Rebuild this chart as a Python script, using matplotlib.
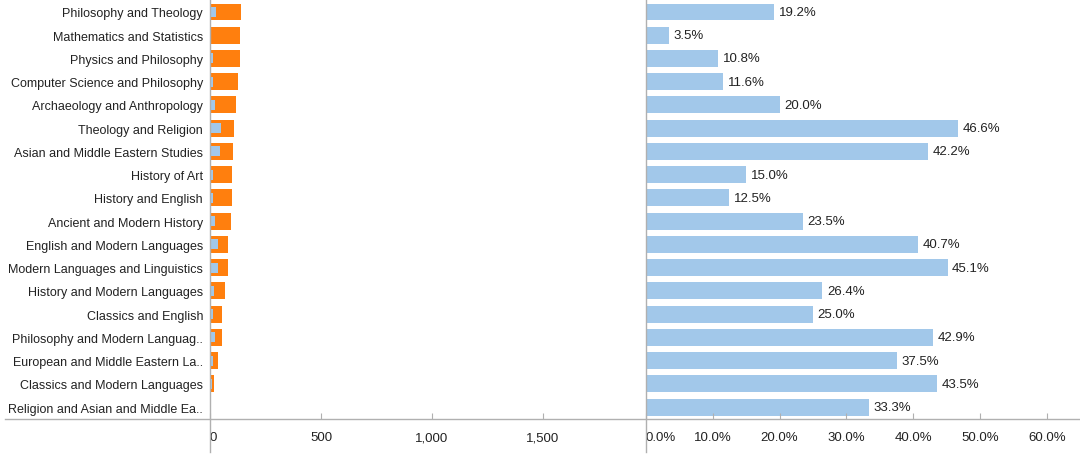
import numpy as np
import matplotlib
matplotlib.use('Agg')
import matplotlib.pyplot as plt
from matplotlib.lines import Line2D

plt.rcParams['font.family'] = ['Liberation Sans', 'DejaVu Sans']

courses = ['Philosophy and Theology', 'Mathematics and Statistics', 'Physics and Philosophy',
           'Computer Science and Philosophy', 'Archaeology and Anthropology', 'Theology and Religion',
           'Asian and Middle Eastern Studies', 'History of Art', 'History and English',
           'Ancient and Modern History', 'English and Modern Languages', 'Modern Languages and Linguistics',
           'History and Modern Languages', 'Classics and English', 'Philosophy and Modern Languag..',
           'European and Middle Eastern La..', 'Classics and Modern Languages', 'Religion and Asian and Middle Ea..']
applications = [141, 135, 135, 125, 119, 109, 104, 98, 98, 94, 83, 83, 67, 52, 52, 37, 17, 3]
offers = [27, 5, 15, 15, 24, 51, 44, 15, 12, 22, 34, 37, 18, 13, 22, 14, 7, 1]
success_rate = [19.2, 3.5, 10.8, 11.6, 20.0, 46.6, 42.2, 15.0, 12.5, 23.5, 40.7, 45.1,
                26.4, 25.0, 42.9, 37.5, 43.5, 33.3]

W, H = 1080, 464
fig = plt.figure(figsize=(W / 100, H / 100), dpi=100)

x0, x1, x2 = 210, 645.7, 1080
ybot, ytop = 420, 0
ax1 = fig.add_axes([x0 / W, (H - ybot) / H, (x1 - x0) / W, (ybot - ytop) / H])
ax2 = fig.add_axes([x1 / W, (H - ybot) / H, (x2 - x1) / W, (ybot - ytop) / H])

ind = np.arange(len(courses))
orange = '#ff7f0e'
blue = '#a2c8ea'
txt = '#222222'
grey = '#b0b0b0'

ax1.barh(ind, applications, height=0.73, color=orange)
ax1.barh(ind, offers, height=0.43, color=blue)
ax2.barh(ind, success_rate, height=0.73, color=blue)
for i, v in enumerate(success_rate):
    ax2.text(v + 0.7, i, '%.1f%%' % v, va='center', ha='left', fontsize=9.5, color=txt)

step = 23.24
ylim = ((ybot - 13) / step, -13 / step)
for ax in (ax1, ax2):
    ax.set_ylim(*ylim)
    for s in ax.spines.values():
        s.set_visible(False)
    ax.tick_params(axis='x', direction='in', length=4, color=grey, pad=9,
                   labelsize=9.5, labelcolor=txt)
    ax.tick_params(axis='y', length=0)

ax1.set_xlim(0, 1963)
ax1.set_yticks(ind)
ax1.set_yticklabels(courses, fontsize=9, color=txt)
ax1.tick_params(axis='y', pad=5)
ax1.set_xticks([0, 500, 1000, 1500])
ax1.set_xticklabels(['0', '500', '1,000', '1,500'])

ax2.set_xlim(0, 64.9)
ax2.set_yticks([])
ax2.set_xticks([0, 10, 20, 30, 40, 50, 60])
ax2.set_xticklabels(['%.1f%%' % t for t in [0, 10, 20, 30, 40, 50, 60]])

for ax in (ax1, ax2):
    lbl = ax.get_xticklabels()
    lbl[0].set_horizontalalignment('left')

# axis lines
fig.add_artist(Line2D([5 / W, 1], [(H - ybot) / H] * 2, color=grey, lw=1))
for xv in (x0, x1):
    fig.add_artist(Line2D([xv / W] * 2, [(H - 453) / H, 1], color=grey, lw=1))

fig.savefig('out.png', dpi=100)
